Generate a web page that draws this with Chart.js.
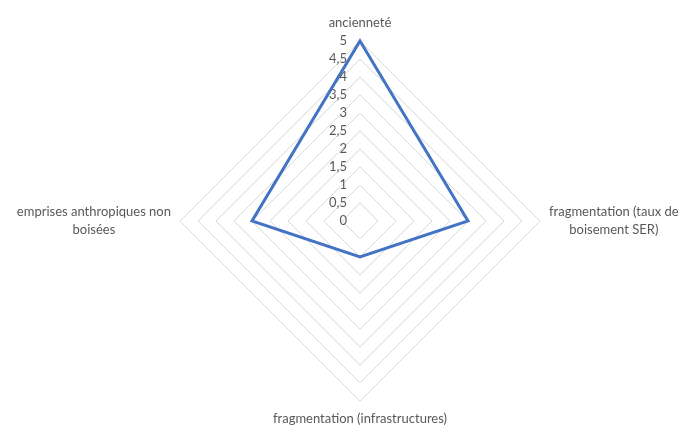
<!DOCTYPE html>
<html><head><meta charset="utf-8">
<script src="https://cdn.jsdelivr.net/npm/chart.js@4.4.1/dist/chart.umd.min.js"></script>
<style>html,body{margin:0;padding:0;background:#fff}#wrap{width:696px;height:428px}</style>
</head><body><div id="wrap"><canvas id="c" width="696" height="428"></canvas></div>
<script>
const categories = [
  'ancienneté',
  ['fragmentation (taux de', 'boisement SER)'],
  'fragmentation (infrastructures)',
  ['emprises anthropiques non', 'boisées']
];
const seriesValues = [5, 3, 1, 3];
const tickValues = [0, 0.5, 1, 1.5, 2, 2.5, 3, 3.5, 4, 4.5, 5];
const tickLabels = ['0', '0,5', '1', '1,5', '2', '2,5', '3', '3,5', '4', '4,5', '5'];

const textColor = '#595959';
const fontFamily = 'Lato, "Open Sans", sans-serif';

const labelPlugin = {
  id: 'excelLabels',
  beforeDatasetsDraw(chart) {
    const s = chart.scales.r, ctx = chart.ctx;
    ctx.save();
    ctx.fillStyle = textColor;
    ctx.font = '13px ' + fontFamily;
    ctx.textAlign = 'right';
    ctx.textBaseline = 'middle';
    tickValues.forEach((v, i) => {
      const y = s.yCenter - s.getDistanceFromCenterForValue(v);
      ctx.fillText(tickLabels[i], s.xCenter - 13, y);
    });
    const pad = 9, lh = 18;
    ctx.textAlign = 'center';
    categories.forEach((lab, i) => {
      const lines = Array.isArray(lab) ? lab : [lab];
      const p = s.getPointPosition(i, s.drawingArea + pad);
      const w = Math.max(...lines.map(l => ctx.measureText(l).width));
      const h = lines.length * lh;
      const ang = s.getIndexAngle(i) - Math.PI / 2;
      const cx = p.x + Math.cos(ang) * w / 2;
      const cy = p.y + Math.sin(ang) * h / 2;
      lines.forEach((l, k) => {
        ctx.fillText(l, cx, cy - h / 2 + lh * (k + 0.5));
      });
    });
    ctx.restore();
  }
};

new Chart(document.getElementById('c'), {
  type: 'radar',
  data: {
    labels: categories,
    datasets: [{
      data: seriesValues,
      borderColor: '#4472C4',
      borderWidth: 3,
      borderJoinStyle: 'miter',
      fill: false,
      pointRadius: 0,
      pointHoverRadius: 0,
      tension: 0
    }]
  },
  options: {
    responsive: false,
    devicePixelRatio: 1,
    animation: false,
    layout: { padding: { left: 124, right: 100, top: 41, bottom: 26 } },
    plugins: { legend: { display: false }, tooltip: { enabled: false } },
    scales: {
      r: {
        min: 0,
        max: 5,
        ticks: { stepSize: 0.5, display: false },
        pointLabels: { display: false },
        grid: { color: '#d9d9d9', lineWidth: 1 },
        angleLines: { display: false }
      }
    }
  },
  plugins: [labelPlugin]
});
</script>
</body></html>
